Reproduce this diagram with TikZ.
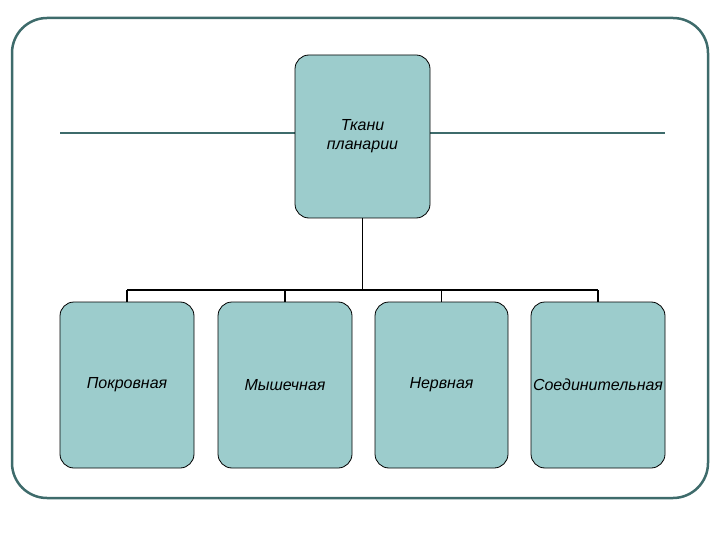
\documentclass[tikz,border=0pt]{standalone}
\usepackage{fontspec}
\setmainfont{Liberation Sans}
\begin{document}
\begin{tikzpicture}[x=1pt,y=-1pt,
  box/.style={draw=black,line width=0.8pt,fill=boxfill,rounded corners=14pt,inner sep=0pt},
  lbl/.style={font=\fontsize{16}{19}\selectfont\itshape,align=center},
  conn/.style={line width=1.8pt,black}]
\definecolor{boxfill}{HTML}{9CCCCC}
\definecolor{frame}{HTML}{3E6B6B}
\useasboundingbox (0,0) rectangle (720,540);
\draw[frame,line width=2.5pt,rounded corners=35pt] (12,18) rectangle (708,498);
\draw[frame,line width=2.5pt] (60,133) -- (295,133);
\draw[frame,line width=2.5pt] (430,133) -- (665,133);
\node[box,minimum width=135pt,minimum height=163pt] (top) at (362.5,136.5) {};
\node[lbl] at (top) {Ткани\\планарии};
\node[box,minimum width=134pt,minimum height=166pt] (b1) at (127,385) {};
\node[box,minimum width=134pt,minimum height=166pt] (b2) at (285,385) {};
\node[box,minimum width=133pt,minimum height=166pt] (b3) at (441.5,385) {};
\node[box,minimum width=134pt,minimum height=166pt] (b4) at (598,385) {};
\node[lbl] at (b1) {Покровная};
\node[lbl] at (b2) {Мышечная};
\node[lbl] at (b3) {Нервная};
\node[lbl] at (b4) {Соединительная};
\coordinate (bus) at (362.5,290);
\draw[conn] (top.south) -- (bus);
\draw[conn] (b1.north |- bus) -- (b4.north |- bus);
\foreach \b in {b1,b2,b3,b4} \draw[conn] (\b.north |- bus) -- (\b.north);
\end{tikzpicture}
\end{document}
